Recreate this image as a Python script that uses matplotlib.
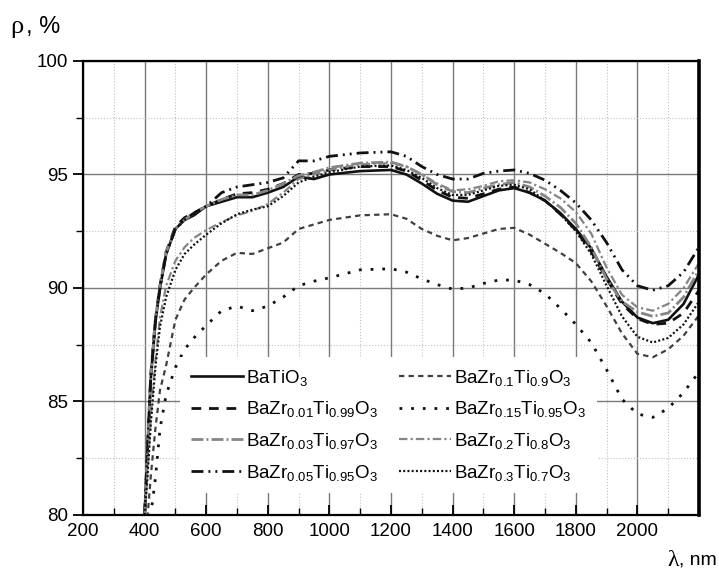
# Reflectance spectra of BaZr(x)Ti(1-x)O3 powders
import matplotlib
matplotlib.use("Agg")
import matplotlib.pyplot as plt
from matplotlib.ticker import MultipleLocator

plt.rcParams['font.family'] = ['Liberation Sans', 'DejaVu Sans']

# wavelength grid, nm
wl = [400, 410, 420, 435, 450, 470, 500, 530, 560, 600, 650, 700, 750, 800, 850,
      900, 950, 1000, 1100, 1200, 1250, 1300, 1350, 1400, 1450, 1500, 1550, 1600,
      1650, 1700, 1750, 1800, 1850, 1900, 1950, 2000, 2050, 2100, 2150, 2200]

# reflectance, %
r_000 = [80.0, 83.0, 86.0, 88.5, 90.0, 91.5, 92.6, 93.0, 93.2, 93.6, 93.8, 94.0, 94.0, 94.2, 94.45,
         94.9, 94.8, 95.0, 95.15, 95.2, 95.0, 94.6, 94.15, 93.85, 93.8, 94.05, 94.3, 94.4,
         94.2, 93.85, 93.3, 92.6, 91.75, 90.5, 89.4, 88.7, 88.45, 88.6, 89.3, 90.6]
r_001 = [80.0, 83.2, 86.2, 88.6, 90.1, 91.6, 92.7, 93.1, 93.3, 93.6, 93.9, 94.15, 94.2, 94.35, 94.6,
         95.0, 95.05, 95.2, 95.35, 95.35, 95.15, 94.75, 94.3, 94.0, 93.95, 94.15, 94.35, 94.45,
         94.2, 93.85, 93.25, 92.55, 91.6, 90.4, 89.3, 88.65, 88.4, 88.45, 88.9, 89.9]
r_003 = [80.0, 83.1, 86.1, 88.6, 90.1, 91.6, 92.6, 93.0, 93.3, 93.6, 93.9, 94.1, 94.1, 94.3, 94.6,
         94.95, 95.1, 95.3, 95.5, 95.55, 95.35, 95.0, 94.55, 94.25, 94.2, 94.4, 94.55, 94.65,
         94.45, 94.05, 93.55, 92.85, 91.8, 90.4, 89.4, 88.95, 88.75, 88.9, 89.6, 90.8]
r_005 = [80.0, 83.0, 86.0, 88.5, 90.0, 91.5, 92.6, 93.0, 93.3, 93.6, 94.2, 94.45, 94.55, 94.65, 94.85,
         95.6, 95.6, 95.8, 95.95, 96.0, 95.8, 95.35, 95.0, 94.8, 94.8, 95.05, 95.15, 95.2,
         95.05, 94.75, 94.3, 93.75, 93.0, 92.0, 90.8, 90.1, 89.9, 90.1, 90.7, 91.8]
r_010 = [77.0, 80.0, 81.7, 83.8, 85.5, 86.6, 88.6, 89.5, 90.0, 90.6, 91.2, 91.55, 91.5, 91.75, 92.0,
         92.6, 92.8, 93.0, 93.2, 93.25, 93.05, 92.6, 92.3, 92.1, 92.2, 92.4, 92.6, 92.65,
         92.35, 91.95, 91.55, 91.1, 90.3, 89.2, 88.0, 87.1, 86.95, 87.3, 87.9, 88.8]
r_015 = [75.0, 77.5, 80.0, 81.6, 83.8, 85.3, 86.5, 87.3, 87.8, 88.35, 89.0, 89.2, 89.0, 89.2, 89.6,
         90.1, 90.3, 90.45, 90.8, 90.85, 90.7, 90.4, 90.15, 89.95, 90.0, 90.2, 90.35, 90.35,
         90.15, 89.75, 89.1, 88.4, 87.6, 86.4, 85.1, 84.45, 84.3, 84.7, 85.4, 86.3]
r_020 = [80.0, 82.0, 84.3, 86.8, 88.7, 90.1, 91.2, 91.8, 92.2, 92.55, 92.9, 93.2, 93.4, 93.7, 94.2,
         94.8, 95.0, 95.2, 95.45, 95.5, 95.35, 95.0, 94.6, 94.3, 94.35, 94.5, 94.7, 94.75,
         94.65, 94.35, 93.95, 93.35, 92.4, 90.9, 89.7, 89.15, 89.0, 89.3, 90.0, 91.1]
r_030 = [80.0, 81.8, 84.0, 86.5, 88.3, 89.6, 90.8, 91.5, 91.9, 92.35, 92.85, 93.25, 93.45, 93.6, 94.05,
         94.65, 94.9, 95.1, 95.35, 95.4, 95.2, 94.85, 94.4, 94.1, 94.1, 94.3, 94.5, 94.55,
         94.35, 93.85, 93.25, 92.5, 91.5, 90.1, 88.75, 87.85, 87.6, 87.8, 88.4, 89.4]

labels = [r'$\mathregular{BaTiO_3}$',
          r'$\mathregular{BaZr_{0.01}Ti_{0.99}O_3}$',
          r'$\mathregular{BaZr_{0.03}Ti_{0.97}O_3}$',
          r'$\mathregular{BaZr_{0.05}Ti_{0.95}O_3}$',
          r'$\mathregular{BaZr_{0.1}Ti_{0.9}O_3}$',
          r'$\mathregular{BaZr_{0.15}Ti_{0.95}O_3}$',
          r'$\mathregular{BaZr_{0.2}Ti_{0.8}O_3}$',
          r'$\mathregular{BaZr_{0.3}Ti_{0.7}O_3}$']

fig = plt.figure(figsize=(7.19, 5.74), dpi=100)
ax = fig.add_axes([83/719, 59/574, 616/719, 454/574])

ax.plot(wl, r_000, color='#111111', lw=1.9, ls='-', label=labels[0])
ax.plot(wl, r_001, color='#111111', lw=2.0, ls=(0, (3.5, 2.8)), label=labels[1])
ax.plot(wl, r_003, color='#858585', lw=2.0, ls=(0, (4.3, 1.1, 0.7, 1.1)), label=labels[2])
ax.plot(wl, r_005, color='#111111', lw=2.0, ls=(0, (4.3, 1.8, 0.7, 1.8, 0.7, 1.8)), label=labels[3])
ax.plot(wl, r_010, color='#404040', lw=1.6, ls=(0, (2.4, 1.9)), label=labels[4])
ax.plot(wl, r_015, color='#111111', lw=2.0, ls=(0, (1.0, 3.2)), label=labels[5])
ax.plot(wl, r_020, color='#858585', lw=1.6, ls=(0, (3.8, 1.4, 1.0, 1.4)), label=labels[6])
ax.plot(wl, r_030, color='#111111', lw=1.6, ls=(0, (0.9, 1.0)), label=labels[7])

ax.set_xlim(200, 2200)
ax.set_ylim(80, 100)
ax.xaxis.set_minor_locator(MultipleLocator(100))
ax.yaxis.set_major_locator(MultipleLocator(5))
ax.yaxis.set_minor_locator(MultipleLocator(2.5))
ax.set_xticks(range(200, 2001, 200))
ax.set_xticklabels([str(v) for v in range(200, 2001, 200)])

ax.grid(which='major', color='#7a7a7a', lw=1.0, ls='-')
ax.grid(which='minor', color='#c0c0c0', lw=0.8, ls=':')
ax.set_axisbelow(True)

ax.tick_params(axis='x', which='both', direction='in', labelsize=13.5, pad=6)
ax.tick_params(axis='x', which='major', length=7, width=1.3)
ax.tick_params(axis='x', which='minor', length=5, width=1.0)
ax.tick_params(axis='y', which='both', direction='out', labelsize=13.5, pad=4)
ax.tick_params(axis='y', which='major', length=7, width=1.3)
ax.tick_params(axis='y', which='minor', length=5, width=1.0)

for s in ['left', 'bottom', 'top']:
    ax.spines[s].set_linewidth(1.6)
ax.spines['right'].set_linewidth(2.6)

leg = ax.legend(ncol=2, loc='lower left', bbox_to_anchor=(0.143, 0.028),
                fontsize=13.5, handlelength=2.8, handletextpad=0.15,
                columnspacing=1.1, labelspacing=0.62, borderpad=0.55,
                frameon=True, fancybox=False, framealpha=1.0)
leg.get_frame().set_edgecolor('none')
leg.get_frame().set_facecolor('white')

fig.text(10/719, 1 - 27/574, 'ρ', fontsize=19, family=['Liberation Serif'], va='center')
fig.text(26/719, 1 - 27/574, ', %', fontsize=17, va='center')
fig.text(667/719, 1 - 560/574, 'λ', fontsize=17, family=['Liberation Serif'], va='center')
fig.text(717/719, 1 - 560/574, ', nm', fontsize=14, va='center', ha='right')

plt.savefig('out.png', dpi=100)
plt.close()
